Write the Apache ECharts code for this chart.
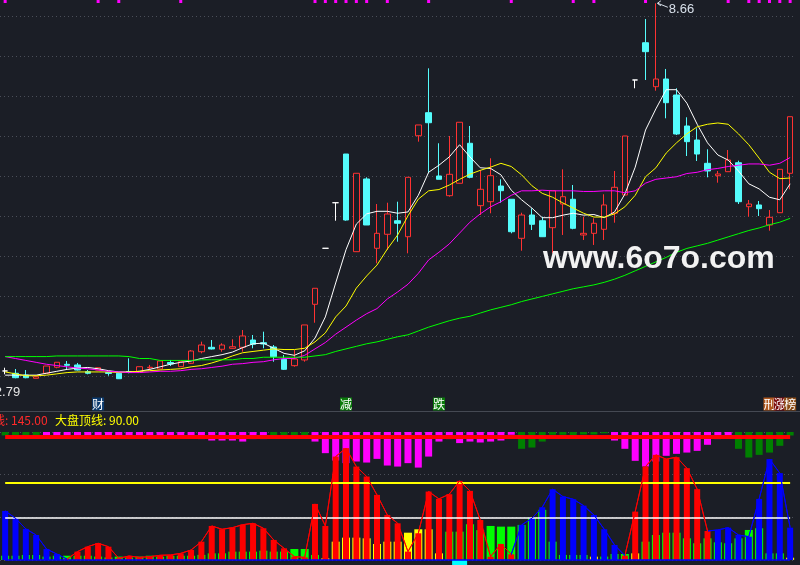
<!DOCTYPE html>
<html><head><meta charset="utf-8">
<script src="https://cdn.jsdelivr.net/npm/echarts@6/dist/echarts.min.js"></script>
<style>html,body{margin:0;padding:0;background:#1b1e26;}#c{width:800px;height:565px;}</style>
</head><body><div id="c"></div>
<script>
// ---- price panel: [open, close, low, high]
const candles = [
[2.915,2.915,2.863,2.966],[2.879,2.810,2.801,2.946],[2.852,2.810,2.801,2.930],[2.801,2.826,2.800,2.829],
[2.879,2.993,2.879,2.993],[2.973,3.051,2.957,3.051],[3.019,3.004,2.941,3.071],[3.009,2.930,2.923,3.040],
[2.904,2.879,2.863,2.930],[2.930,2.966,2.930,2.970],[2.891,2.876,2.841,2.904],[2.879,2.794,2.790,2.899],
[2.907,2.891,2.879,3.113],[2.899,2.982,2.899,2.982],[2.965,2.973,2.930,3.009],[2.946,3.071,2.946,3.071],
[3.048,3.024,2.993,3.087],[2.982,3.060,2.977,3.071],[3.035,3.227,3.024,3.243],[3.216,3.321,3.191,3.373],
[3.285,3.259,3.251,3.399],[3.254,3.321,3.216,3.348],[3.269,3.294,3.266,3.410],[3.285,3.462,3.216,3.555],
[3.399,3.332,3.269,3.477],[3.357,3.337,3.269,3.529],[3.290,3.138,3.060,3.321],[3.098,2.941,2.930,3.165],
[2.998,3.102,2.982,3.243],[3.087,3.634,3.060,3.634],[3.957,4.207,3.669,4.207],[4.832,4.832,4.832,4.832],
[5.544,5.544,5.263,5.544],[6.305,5.274,5.263,6.305],[4.779,6.004,4.779,6.004],[5.915,5.196,5.196,5.941],
[4.832,5.066,4.598,5.524],[5.051,5.368,4.805,5.544],[5.263,5.223,4.935,5.560],[5.013,5.941,4.754,5.941],
[6.591,6.759,6.498,6.759],[6.951,6.794,6.004,7.644],[5.962,5.910,5.910,6.473],[5.654,5.988,5.638,6.587],
[5.848,6.801,5.848,6.801],[6.473,5.941,5.926,6.743],[5.498,5.754,5.352,6.055],[5.560,5.966,5.379,6.238],
[5.805,5.732,5.544,5.910],[5.598,5.091,5.066,5.598],[4.988,5.352,4.794,5.388],[5.352,5.207,5.118,5.457],
[5.263,5.013,5.008,5.326],[5.154,5.732,4.754,5.732],[5.524,5.638,5.040,6.066],[5.598,5.144,5.129,5.821],
[5.040,5.066,4.962,5.326],[5.066,5.223,4.884,5.301],[5.129,5.509,4.962,5.676],[5.379,5.785,5.232,6.040],
[5.665,6.587,5.665,6.587],[7.462,7.462,7.332,7.462],[8.044,7.904,7.462,8.415],[7.357,7.477,7.294,8.660],
[7.477,7.107,6.863,7.634],[7.227,6.618,6.602,7.332],[6.743,6.498,6.274,6.879],[6.524,6.305,6.196,6.707],
[6.160,6.040,5.941,6.379],[5.966,5.993,5.857,6.040],[6.029,6.212,6.029,6.368],[6.169,5.560,5.524,6.201],
[5.482,5.524,5.326,5.587],[5.509,5.451,5.337,5.571],[5.196,5.316,5.107,5.430],[5.388,6.066,5.388,6.066],
[6.004,6.888,5.754,6.888]
];
const ma5 = [2.85,2.85,2.85,2.85,2.88,2.91,2.94,2.96,2.97,2.95,
2.92,2.90,2.90,2.91,2.94,2.98,3.02,3.05,3.07,3.11,
3.14,3.17,3.21,3.28,3.34,3.35,3.27,3.19,3.16,3.23,
3.43,3.76,4.29,4.81,5.21,5.37,5.41,5.41,5.38,5.40,
5.66,6.02,6.13,6.26,6.45,6.26,6.09,6.08,5.98,5.74,
5.59,5.46,5.31,5.31,5.35,5.38,5.35,5.36,5.31,5.40,
5.68,6.10,6.68,7.01,7.31,7.31,7.10,6.77,6.48,6.29,
6.21,6.04,5.84,5.76,5.63,5.59,5.84];
const ma10 = [2.90,2.87,2.84,2.84,2.85,2.87,2.89,2.90,2.90,2.90,
2.90,2.89,2.90,2.91,2.92,2.93,2.94,2.95,2.98,3.00,
3.04,3.09,3.15,3.20,3.22,3.24,3.26,3.25,3.25,3.27,
3.37,3.51,3.76,3.93,4.21,4.40,4.57,4.82,5.04,5.34,
5.60,5.73,5.75,5.82,5.91,5.99,6.05,6.10,6.16,6.11,
5.98,5.81,5.69,5.63,5.54,5.46,5.38,5.32,5.32,5.37,
5.48,5.66,5.95,6.09,6.32,6.48,6.62,6.73,6.77,6.79,
6.77,6.62,6.45,6.24,6.02,5.92,5.93];
const ma20 = [3.14,3.11,3.08,3.05,3.02,3.00,2.98,2.96,2.95,2.93,
2.91,2.90,2.89,2.89,2.90,2.91,2.91,2.92,2.94,2.95,
2.97,2.99,3.02,3.03,3.05,3.06,3.09,3.11,3.11,3.16,
3.26,3.36,3.49,3.60,3.71,3.81,3.89,4.04,4.15,4.27,
4.44,4.65,4.77,4.90,5.07,5.24,5.37,5.48,5.56,5.66,
5.73,5.73,5.74,5.73,5.73,5.73,5.72,5.72,5.73,5.73,
5.70,5.73,5.85,5.91,5.93,5.95,6.00,6.02,6.06,6.08,
6.11,6.13,6.15,6.15,6.13,6.16,6.25];
const ma60 = [3.14,3.14,3.14,3.14,3.14,3.15,3.15,3.15,3.15,3.15,
3.15,3.15,3.14,3.11,3.11,3.08,3.08,3.08,3.08,3.09,
3.09,3.09,3.09,3.11,3.11,3.13,3.13,3.13,3.13,3.13,
3.15,3.17,3.22,3.26,3.30,3.34,3.37,3.41,3.45,3.48,
3.54,3.60,3.65,3.70,3.74,3.77,3.82,3.87,3.91,3.95,
4.00,4.04,4.08,4.12,4.16,4.20,4.23,4.26,4.30,4.35,
4.41,4.48,4.55,4.62,4.69,4.77,4.83,4.87,4.91,4.96,
5.01,5.06,5.11,5.15,5.20,5.24,5.30];
const highLabel = 8.66, lowLabel = 2.79;
const topMarks = [0,9,11,17,30,31,32,33,34,35,37,41,49,55,57,62,70,72,73,74,75,76];
const eventIdx = [9,33,42,74,75,76];
const eventText = ['财','减','跌','刑','涨','榜'];

// ---- indicator panel
const power = [57.5,48.9,36.4,29.3,12.9,7.0,1.0,9.8,15.6,19.6,
15.6,2.0,4.7,3.1,3.9,5.5,5.9,7.8,11.7,21.5,
39.9,36.0,37.9,41.4,43.0,37.2,23.5,13.7,3.9,3.1,
65.7,39.9,121.2,131.1,109.5,97.8,76.3,52.8,43.0,9.8,
31.3,80.2,71.6,77.1,92.7,81.0,46.9,3.9,18.8,6.7,
41.1,48.9,61.8,83.0,74.3,71.2,63.7,52.8,36.0,17.6,
5.1,56.7,109.5,123.2,118.2,120.5,107.6,83.0,34.0,35.2,
37.9,29.3,27.3,71.6,118.2,101.8,37.9];
const powerTone = ('bbbbbb' + 'rrrrrrrrrr' + 'rrrrrrrrrr' + 'rrrrrrrrrr' + 'rrrrrrrrrr' + 'rrrr' +
  'bbbbbbbbbb' + 'rrrrrrrrr' + 'bbbbbbbb').split('');
const base = [5,5,5.9,5.9,4,5,5,5,5,4,
3,4,3,4,5,4,5,5,5,6,
7.8,7.8,9.8,9.8,9.8,10.9,9.8,9.8,12.9,12.9,
5.9,2,21.5,26.2,26.2,25.4,18.8,21.5,21.5,32.0,
36.0,36.0,7.8,33.2,33.2,41.9,35,39.9,39.1,39.1,
41.1,48.9,58.8,21.5,5.9,5.9,5.9,3.9,4,7.0,
7.0,7.8,21.5,29.3,32.0,32.0,25.4,19.6,25.4,20.7,
19.6,25.4,35.2,37.2,7.8,7.8,2.7];
const baseTone = ('gggggggggg' + 'gggggggggg' + 'gggggggggg' + 'g' + 'yyyyyyyyyyyy' +
  'gggggggggggggg' + 'y' + 'ggg' + 'y' + 'gggggggggggggg' + 'y').split('');
const hangLow = [146,146,146,146,146,146,146,146,141.7,146,
146,146,146,146,146,146,146,146,146,141.7,
140,140,140,138.8,141.7,141.7,146,146,146,146,
138.8,125.2,116.5,113.5,115.4,114.2,118.5,110.7,109.5,113.5,
108.3,121.2,138.8,141.7,137.0,138.8,137.7,138.8,140.0,146.7,
130.3,131.8,138.8,146.7,146.7,141.7,147,147,148.5,140.0,
130.3,116.2,109.5,115.4,122.1,124.4,125.9,127.9,135.0,141.7,
145.5,130.3,120.1,123.2,125.9,133.8,145.9];
const hangTone = ('gggg' + 'mmmmmmmmmm' + 'mmmmmmmmmm' + 'mm' + 'gggg' + 'mmmmmmmmmm' + 'mmmmmmmmmm' +
  'ggggggggg' + 'mmmmmmmmmmmm' + 'gggggg').split('');
const hangTop = 150;
const cyanIdx = 44;
const lineRed = 145, lineTop = 90, lineMid = 50, lineZero = 0;

// ---- styles
const BG = '#1b1e26';
const UP = '#ff3232', DOWN = '#54fcfc';
const RED = '#ff0000', BLUE = '#0000ff';
const toneColor = { r: RED, b: BLUE, g: '#00ff00', y: '#ffff00', m: '#ff00ff' };
const hangColor = { g: '#008000', m: '#ff00ff' };
const eventBg = ['#0b3a6e', '#0a7a0a', '#0a7a0a', '#b0581e', '#7a0c0c', '#8a4a14'];
const dotted = { type: [1, 3], color: '#4a4e58', width: 1 };

const N = candles.length;
const days = candles.map((_, i) => 'D' + (i + 1));
const L = -4.7, R = 4.7;

const chart = echarts.init(document.getElementById('c'));

const xA = (g) => ({ type: 'category', gridIndex: g, data: days, boundaryGap: true, show: false });
const hiddenY = (g) => ({ type: 'value', gridIndex: g, min: 0, max: 1, show: false });

// visual pieces for the thin indicator line
const runs = [];
powerTone.forEach((t, i) => {
  if (!runs.length || runs[runs.length - 1].t !== t) runs.push({ t, s: i, e: i });
  else runs[runs.length - 1].e = i;
});
const pieces = runs.map((r, k) => r.t === 'r'
  ? { gte: r.s, lte: r.e, color: RED }
  : { gt: k > 0 ? runs[k - 1].e : -1, lt: k < runs.length - 1 ? runs[k + 1].s : N, color: BLUE });

const maLine = (data, color) => ({
  type: 'line', xAxisIndex: 0, yAxisIndex: 0, data, symbol: 'none', clip: false, silent: true,
  lineStyle: { color, width: 1 }, z: 4
});
const seg = (v, color, width) => [
  { coord: [days[0], v], lineStyle: { color, width, type: 'solid' } },
  { coord: [days[N - 1], v] }
];

chart.setOption({
  animation: false,
  backgroundColor: BG,
  grid: [
    { left: L, right: R, top: 16, height: 360 },
    { left: L, right: R, top: 0, height: 3 },
    { left: L, right: R, top: 398, height: 12 },
    { left: L, right: R, top: 432, height: 128 },
    { left: L, right: R, top: 560, height: 5 }
  ],
  xAxis: [xA(0), xA(1), xA(2), xA(3), xA(3), xA(3), xA(4)],
  yAxis: [
    { type: 'value', gridIndex: 0, min: 2.8366, max: 8.4616, interval: 0.625,
      axisLine: { show: false }, axisTick: { show: false }, axisLabel: { show: false },
      splitLine: { show: true, lineStyle: dotted } },
    hiddenY(1), hiddenY(2),
    { type: 'value', gridIndex: 3, min: 0, max: 150, interval: 50,
      axisLine: { show: false }, axisTick: { show: false }, axisLabel: { show: false },
      splitLine: { show: true, lineStyle: dotted } },
    hiddenY(4)
  ],
  visualMap: [{ show: false, type: 'piecewise', seriesIndex: 11, dimension: 0, pieces }],
  series: [
    { type: 'candlestick', xAxisIndex: 0, yAxisIndex: 0, barWidth: 6, clip: false, z: 2,
      itemStyle: { color: BG, color0: DOWN, borderColor: UP, borderColor0: DOWN, borderColorDoji: '#ffffff', borderWidth: 1 },
      data: candles.map(c => c[0] === c[1]
        ? { value: c, itemStyle: { borderColor: '#ffffff', borderColor0: '#ffffff', color: '#ffffff', color0: '#ffffff' } }
        : c) },
    maLine(ma5, '#ffffff'),
    maLine(ma10, '#ffff00'),
    maLine(ma20, '#ff00ff'),
    maLine(ma60, '#00ff00'),
    { type: 'bar', xAxisIndex: 1, yAxisIndex: 1, barWidth: 3, silent: true,
      itemStyle: { color: '#ff00ff' },
      data: days.map((_, i) => topMarks.includes(i) ? 1 : null) },
    { type: 'scatter', xAxisIndex: 2, yAxisIndex: 2, symbol: 'rect', symbolSize: 1, silent: true, z: 6,
      itemStyle: { color: 'rgba(0,0,0,0)', opacity: 1 },
      data: eventIdx.map((idx, k) => ({ value: [idx, 0.5],
        label: { show: true, position: 'inside', formatter: eventText[k], color: '#ffffff',
          backgroundColor: eventBg[k], fontSize: 12, fontFamily: 'Noto Sans CJK SC',
          width: 12, height: 13, lineHeight: 13, align: 'center', verticalAlign: 'middle', padding: 0 } })) },
    { type: 'bar', xAxisIndex: 4, yAxisIndex: 3, barWidth: 8, silent: true, z: 1,
      data: base.map((v, i) => ({ value: v, itemStyle: { color: toneColor[baseTone[i]] } })) },
    { type: 'bar', xAxisIndex: 5, yAxisIndex: 3, barWidth: 7, stack: 'hang', silent: true, z: 2,
      itemStyle: { color: 'rgba(0,0,0,0)' }, data: hangLow },
    { type: 'bar', xAxisIndex: 5, yAxisIndex: 3, barWidth: 7, stack: 'hang', silent: true, z: 2,
      data: hangLow.map((v, i) => ({ value: +(hangTop - v).toFixed(2), itemStyle: { color: hangColor[hangTone[i]] } })) },
    { type: 'bar', xAxisIndex: 3, yAxisIndex: 3, barWidth: 6, silent: true, z: 3,
      data: power.map((v, i) => ({ value: v, itemStyle: { color: toneColor[powerTone[i]] } })) },
    { type: 'line', xAxisIndex: 3, yAxisIndex: 3, data: power, symbol: 'none', silent: true, z: 5,
      lineStyle: { width: 1 },
      markLine: { silent: true, symbol: ['none', 'none'], label: { show: false }, animation: false,
        data: [
          seg(lineZero, BLUE, 1.5),
          seg(lineMid, '#ffffff', 1.5),
          seg(lineTop, '#ffff00', 2),
          seg(lineRed, '#ff0000', 4)
        ] } },
    { type: 'bar', xAxisIndex: 6, yAxisIndex: 4, barWidth: 15, silent: true,
      itemStyle: { color: '#00ffff' },
      data: days.map((_, i) => i === cyanIdx ? 1 : null) }
  ]
});

const hi = chart.convertToPixel({ gridIndex: 0 }, [63, highLabel]);
const lo = chart.convertToPixel({ gridIndex: 0 }, [0, lowLabel]);
chart.setOption({
  graphic: [
    { type: 'line', shape: { x1: 0, y1: 411.5, x2: 800, y2: 411.5 }, style: { stroke: '#454953', lineWidth: 1 }, silent: true },
    { type: 'polyline', shape: { points: [[hi[0] + 12, hi[1] + 4], [hi[0] + 2, hi[1]]] }, style: { stroke: '#d8e0ea', lineWidth: 1, fill: null }, silent: true },
    { type: 'polyline', shape: { points: [[hi[0] + 5, hi[1] - 2.5], [hi[0] + 1.5, hi[1]], [hi[0] + 5, hi[1] + 2.5]] }, style: { stroke: '#d8e0ea', lineWidth: 1, fill: null }, silent: true },
    { type: 'text', x: hi[0] + 13, y: hi[1] + 6, silent: true,
      style: { text: String(highLabel.toFixed(2)), fill: '#d8e0ea', font: '13px "Liberation Sans"', verticalAlign: 'middle', align: 'left' } },
    { type: 'text', x: lo[0] + 15, y: lo[1] + 13, silent: true,
      style: { text: lowLabel.toFixed(2), fill: '#e6e6e6', font: '13px "Liberation Sans"', verticalAlign: 'middle', align: 'right' } },
    { type: 'text', x: -7, y: 420, silent: true,
      style: { text: '线: ' + lineRed.toFixed(2), fill: '#ff2a2a', font: '12px "Noto Sans CJK SC"', verticalAlign: 'middle' } },
    { type: 'text', x: 55, y: 420, silent: true,
      style: { text: '大盘顶线: ' + lineTop.toFixed(2), fill: '#ffff00', font: '12px "Noto Sans CJK SC"', verticalAlign: 'middle' } },
    { type: 'text', x: 543, y: 259, silent: true, z: 100,
      style: { text: 'www.6o7o.com', fill: '#f2f2f2', font: 'bold 32px "Liberation Sans"', verticalAlign: 'middle' } }
  ]
});
</script>
</body></html>
